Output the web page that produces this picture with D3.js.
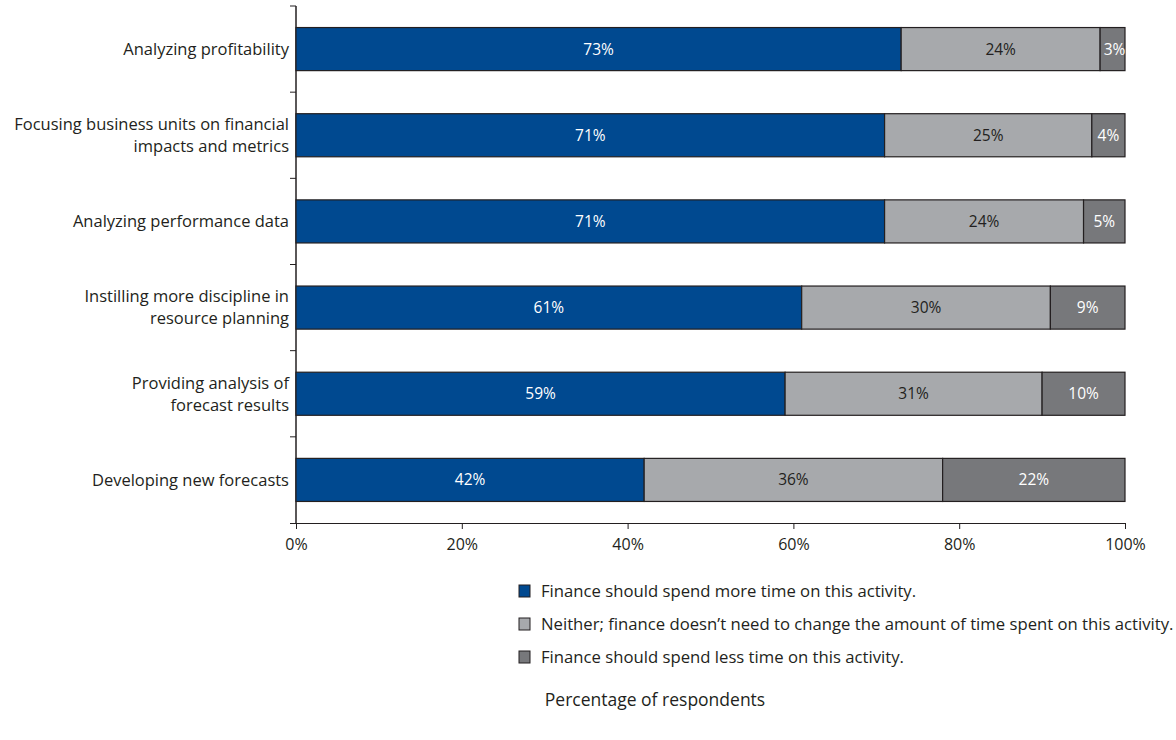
<!DOCTYPE html>
<html>
<head>
<meta charset="utf-8">
<script src="https://cdn.jsdelivr.net/npm/d3@7"></script>
<style>
body { margin: 0; background: #fff; }
text { font-family: "Open Sans", "Noto Sans", sans-serif; fill: #231f20; }
.domain, .tick line { stroke: #231f20; }
</style>
</head>
<body>
<script>
var categories = [
    ["Analyzing profitability"],
    ["Focusing business units on financial", "impacts and metrics"],
    ["Analyzing performance data"],
    ["Instilling more discipline in", "resource planning"],
    ["Providing analysis of", "forecast results"],
    ["Developing new forecasts"]
];
var moreTime = [73, 71, 71, 61, 59, 42];
var sameTime = [24, 25, 24, 30, 31, 36];
var lessTime = [3, 4, 5, 9, 10, 22];
var seriesNames = [
    "Finance should spend more time on this activity.",
    "Neither; finance doesn\u2019t need to change the amount of time spent on this activity.",
    "Finance should spend less time on this activity."
];
var xTicks = [0, 20, 40, 60, 80, 100];
var axisTitle = "Percentage of respondents";

var colors = ["#004990", "#a7a9ac", "#77787b"];
var labelColors = ["#fff", "#231f20", "#fff"];

var loadChart = function(){
    var svg = d3.select("body").append("svg")
        .attr("width", 1176)
        .attr("height", 740);

    var xScale = d3.scaleLinear().domain([0, 100]).range([296, 1125]);
    var yScale = d3.scaleBand().domain(d3.range(categories.length)).range([6, 523]).paddingInner(0.5).paddingOuter(0.25);

    // horizontal axis
    var xAxis = d3.axisBottom(xScale).tickValues(xTicks).tickSize(6).tickSizeOuter(0)
        .tickFormat(function(d){ return d + "%"; });
    var gx = svg.append("g").attr("transform", "translate(0,523)").call(xAxis);
    gx.select(".domain").attr("d", "M290,0.5H1125");
    gx.selectAll("text").attr("font-size", 16).attr("y", 16).attr("dy", "0.71em");

    // vertical axis with ticks between bars
    var boundaries = d3.range(categories.length + 1).map(function(i){
        return 6 + i * (523 - 6) / categories.length;
    });
    svg.append("line").attr("x1", 296).attr("x2", 296).attr("y1", 6).attr("y2", 523)
        .attr("stroke", "#231f20").attr("stroke-width", 1.5);
    svg.append("g").selectAll("line").data(boundaries.slice(0, -1)).enter().append("line")
        .attr("x1", 290).attr("x2", 296)
        .attr("y1", function(d){ return d; }).attr("y2", function(d){ return d; })
        .attr("stroke", "#231f20");

    // category labels
    var labels = svg.append("g").selectAll("text").data(categories).enter().append("text")
        .attr("x", 289)
        .attr("text-anchor", "end")
        .attr("font-size", 16.5)
        .attr("y", function(d, i){ return yScale(i) + yScale.bandwidth() / 2 - (d.length - 1) * 11; });
    labels.selectAll("tspan").data(function(d){ return d; }).enter().append("tspan")
        .attr("x", 289)
        .attr("dy", function(d, j){ return j === 0 ? "0.35em" : 22; })
        .text(function(d){ return d; });

    // stacked bars
    var rows = categories.map(function(c, i){
        return [moreTime[i], sameTime[i], lessTime[i]];
    });
    rows.forEach(function(vals, i){
        var start = 0;
        vals.forEach(function(v, k){
            var x0 = xScale(start), x1 = xScale(start + v);
            svg.append("rect")
                .attr("x", x0).attr("y", yScale(i))
                .attr("width", x1 - x0).attr("height", yScale.bandwidth())
                .attr("fill", colors[k]).attr("stroke", "#231f20").attr("stroke-width", 1.2);
            svg.append("text")
                .attr("x", (x0 + x1) / 2 + (v < 4 ? 2 : 0)).attr("y", yScale(i) + yScale.bandwidth() / 2)
                .attr("dy", "0.35em").attr("text-anchor", "middle")
                .attr("font-size", 15.5).style("fill", labelColors[k])
                .text(v + "%");
            start += v;
        });
    });

    // legend
    var legend = svg.append("g").selectAll("g").data(seriesNames).enter().append("g")
        .attr("transform", function(d, i){ return "translate(519," + (585 + i * 33) + ")"; });
    legend.append("rect").attr("width", 11).attr("height", 12)
        .attr("fill", function(d, i){ return colors[i]; })
        .attr("stroke", "#231f20");
    legend.append("text").attr("x", 22).attr("y", 6).attr("dy", "0.35em")
        .attr("font-size", 16.7)
        .text(function(d){ return d; });

    svg.append("text").attr("x", 655).attr("y", 706)
        .attr("text-anchor", "middle").attr("font-size", 17.5)
        .text(axisTitle);
}

window.onload = loadChart;
</script>
</body>
</html>
